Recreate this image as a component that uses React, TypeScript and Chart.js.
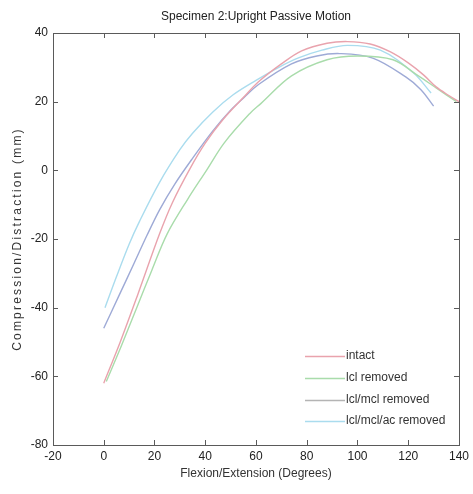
import React, { useEffect, useRef } from "react";
import { Chart, registerables } from "chart.js";

Chart.register(...registerables);

const chartTitle = "Specimen 2:Upright Passive Motion";
const xTitle = "Flexion/Extension (Degrees)";
const yTitle = "Compression/Distraction (mm)";
const xTicks = [-20, 0, 20, 40, 60, 80, 100, 120, 140];
const yTicks = [-80, -60, -40, -20, 0, 20, 40];

const seriesNames = ["intact", "lcl removed", "lcl/mcl removed", "lcl/mcl/ac removed"];
const seriesColors = ["#e9a3ad", "#a9dcab", "#9eaad6", "#aadcee"];
const legendColors = ["#e9a3ad", "#a9dcab", "#b4b4b4", "#aadcee"];

const intactX = [0, 6.5, 13.5, 22, 27, 34, 40, 47, 55, 61, 70, 78, 88, 96, 105, 113, 120, 126, 131, 136, 140];
const intactY = [-62, -50, -36, -18.5, -9.5, 0.5, 7.9, 14.8, 21.2, 25.8, 31, 34.8, 37, 37.5, 36.8, 34.5, 31.3, 27.8, 24.3, 21.8, 20];

const lclX = [1, 7, 13, 19, 25, 33, 40.5, 47.5, 57.5, 62, 74, 88, 100, 114, 124, 131, 139];
const lclY = [-61.5, -51, -40, -29, -18.5, -8.5, 0, 8, 16.5, 19.5, 27.5, 32.2, 33.3, 32.2, 27.5, 24, 20];

const lclMclX = [0, 6, 12, 17, 22, 28, 35, 43, 50, 55, 61, 74, 84, 93, 106, 119, 125, 130];
const lclMclY = [-46, -36.5, -27, -19, -11.5, -4, 3.5, 11.5, 17.5, 21, 25, 31, 33.3, 34, 32.7, 27.2, 23.5, 18.7];

const lclMclAcX = [0.5, 5, 10, 14, 22, 30, 35, 43, 51, 60, 69, 77, 86, 96, 109, 122, 129];
const lclMclAcY = [-40, -31, -21.5, -15, -3.5, 6, 10.8, 17, 22, 26.2, 30, 32.8, 35, 36.4, 35, 28.4, 22.5];

const seriesX = [intactX, lclX, lclMclX, lclMclAcX];
const seriesY = [intactY, lclY, lclMclY, lclMclAcY];

const FONT = "'Liberation Sans', Arial, sans-serif";

const framePlugin = {
  id: "frame",
  afterDraw(chart: any) {
    const { ctx, chartArea: a, scales } = chart;
    const x = scales.x;
    const y = scales.y;
    ctx.save();
    ctx.strokeStyle = "#5a5a5a";
    ctx.lineWidth = 1;
    ctx.strokeRect(Math.round(a.left) + 0.5, Math.round(a.top) + 0.5, Math.round(a.right - a.left), Math.round(a.bottom - a.top));
    ctx.beginPath();
    for (const v of xTicks) {
      const px = Math.round(x.getPixelForValue(v)) + 0.5;
      ctx.moveTo(px, a.bottom);
      ctx.lineTo(px, a.bottom - 5);
      ctx.moveTo(px, a.top);
      ctx.lineTo(px, a.top + 5);
    }
    for (const v of yTicks) {
      const py = Math.round(y.getPixelForValue(v)) + 0.5;
      ctx.moveTo(a.left, py);
      ctx.lineTo(a.left + 5, py);
      ctx.moveTo(a.right, py);
      ctx.lineTo(a.right - 5, py);
    }
    ctx.stroke();

    // title
    ctx.fillStyle = "#222";
    ctx.font = `12px ${FONT}`;
    ctx.textAlign = "center";
    ctx.textBaseline = "middle";
    ctx.fillText(chartTitle, (a.left + a.right) / 2, 17);

    // y title with spacing
    ctx.save();
    ctx.translate(18, (a.top + a.bottom) / 2);
    ctx.rotate(-Math.PI / 2);
    (ctx as any).letterSpacing = "2.2px";
    ctx.fillStyle = "#333";
    ctx.fillText(yTitle, 0, 0);
    ctx.restore();

    // legend
    const rowY = [356, 378, 400, 421];
    ctx.textAlign = "left";
    ctx.font = `12px ${FONT}`;
    for (let i = 0; i < seriesNames.length; i++) {
      ctx.strokeStyle = legendColors[i];
      ctx.lineWidth = 1.5;
      ctx.beginPath();
      ctx.moveTo(305, rowY[i] + 0.5);
      ctx.lineTo(345, rowY[i] + 0.5);
      ctx.stroke();
      ctx.fillStyle = "#333";
      ctx.fillText(seriesNames[i], 346, rowY[i]);
    }
    ctx.restore();
  },
};

export default function App() {
  const ref = useRef<HTMLCanvasElement>(null);
  useEffect(() => {
    document.body.style.margin = "0";
    const datasets = seriesNames.map((name, i) => ({
      label: name,
      data: seriesX[i].map((xv, j) => ({ x: xv, y: seriesY[i][j] })),
      borderColor: seriesColors[i],
      backgroundColor: seriesColors[i],
      borderWidth: 1.4,
      showLine: true,
      pointRadius: 0,
      tension: 0.35,
    }));
    const chart = new Chart(ref.current!, {
      type: "scatter",
      data: { datasets },
      options: {
        animation: false,
        responsive: false,
        layout: { padding: { top: 33, right: 14, left: 0, bottom: 0 } },
        plugins: { legend: { display: false }, title: { display: false }, tooltip: { enabled: false } },
        scales: {
          x: {
            type: "linear",
            min: -20,
            max: 140,
            afterFit: (s: any) => { s.height = 49; },
            afterBuildTicks: (s: any) => { s.ticks = xTicks.map((v) => ({ value: v })); },
            grid: { display: false, drawTicks: false },
            border: { display: false },
            ticks: { color: "#222", font: { family: FONT, size: 12 }, padding: 4 },
            title: { display: true, text: xTitle, color: "#333", font: { family: FONT, size: 12 }, padding: { top: 0, bottom: 13 } },
          },
          y: {
            type: "linear",
            min: -80,
            max: 40,
            afterFit: (s: any) => { s.width = 53; },
            afterBuildTicks: (s: any) => { s.ticks = yTicks.map((v) => ({ value: v })); },
            grid: { display: false, drawTicks: false },
            border: { display: false },
            ticks: { color: "#222", font: { family: FONT, size: 12 }, padding: 5 },
          },
        },
      },
      plugins: [framePlugin],
    });
    return () => chart.destroy();
  }, []);
  return (
    <div style={{ width: 473, height: 494 }}>
      <canvas ref={ref} width={473} height={494} />
    </div>
  );
}
